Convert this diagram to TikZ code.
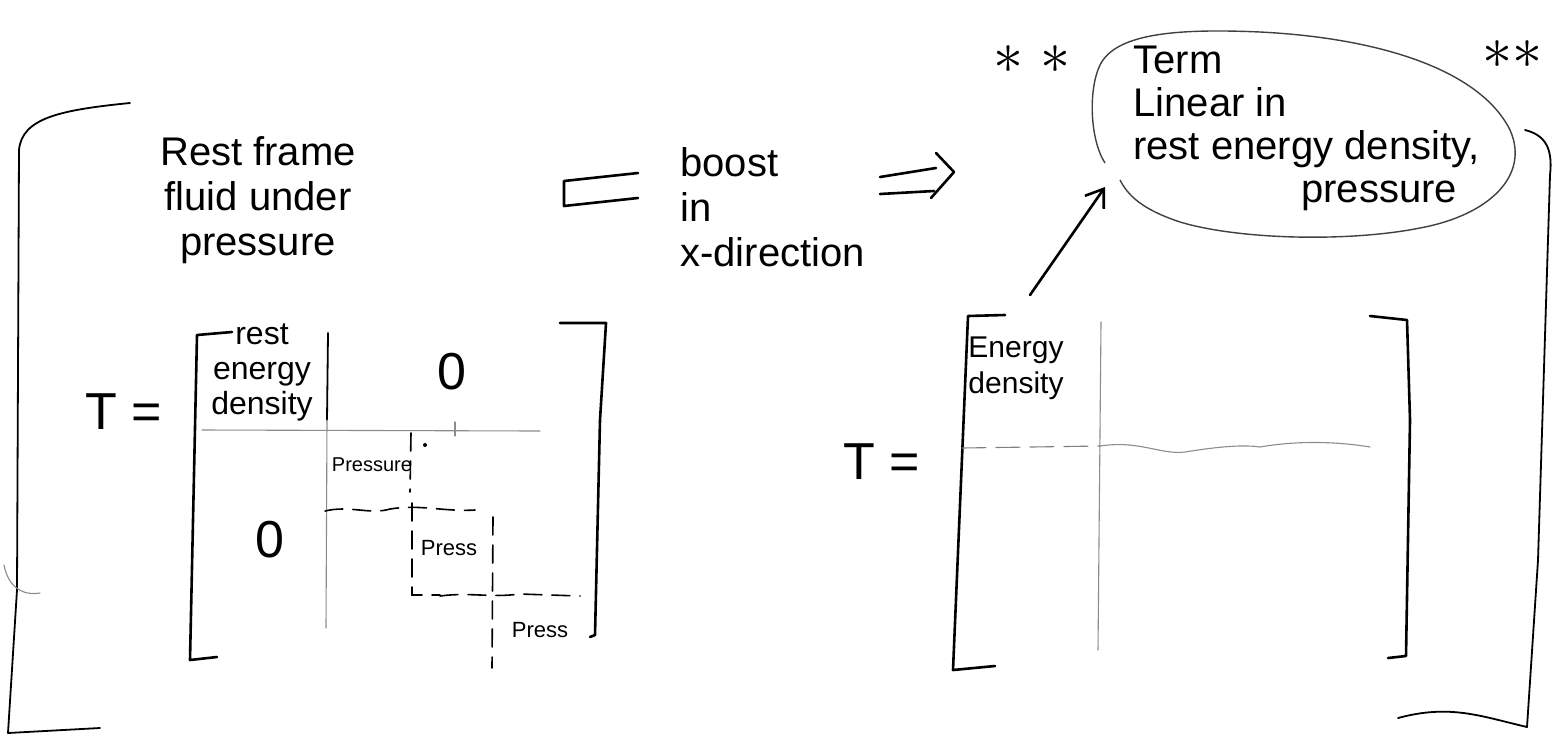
\documentclass[tikz,border=0pt]{standalone}
\usepackage{fontspec}
\setmainfont{Liberation Sans}
\usetikzlibrary{arrows.meta}
\begin{document}
\begin{tikzpicture}[x=0.5pt,y=-0.5pt,
  ink/.style={line width=1.3pt, line cap=round, line join=round},
  thin/.style={line width=0.9pt, line cap=round, line join=round},
  faint/.style={line width=0.55pt, draw=black!45, line cap=round},
  dashink/.style={line width=0.8pt, line cap=round, dash pattern=on 9pt off 5pt},
  dashfaint/.style={line width=0.55pt, draw=black!50, line cap=round, dash pattern=on 12pt off 5pt},
  hand/.style={font=\fontsize{20}{22.5}\selectfont, align=center, inner sep=0pt},
  cell/.style={font=\fontsize{16}{17.5}\selectfont, align=center, inner sep=0pt},
  tiny/.style={font=\fontsize{10}{11}\selectfont, inner sep=0pt},
  big/.style={font=\fontsize{26}{26}\selectfont, inner sep=0pt},
  star/.style={scale=3, inner sep=0pt}]
\useasboundingbox (0,0) rectangle (1567,740);
\fill[white] (0,0) rectangle (1567,740);

% ---- outer brackets around the whole comparison ----
\draw[thin] (130,103) .. controls (60,110) and (22,118) .. (19,150) -- (17,590) -- (8,733) -- (100,728);
\draw[faint] (4,565) .. controls (8,585) and (20,596) .. (40,593);
\draw[thin] (1525,130) .. controls (1545,135) and (1553,148) .. (1550,175)
  -- (1538,560) -- (1527,727) .. controls (1480,716) and (1450,704) .. (1398,718);

% ---- left: rest frame ----
\node[hand] (rf) at (258,200) {Rest frame\\fluid under\\pressure};
\node[big] (T1) at (124,412) {T =};

% matrix brackets
\draw[ink] (232,332) -- (197,335) -- (190,660) -- (217,657);
\draw[ink] (560,323) -- (606,323) -- (600,420) -- (595,635) -- (590,637);

% block structure
\draw[thin] (328,333) -- (327,420);
\draw[faint] (327,420) -- (326,628);
\draw[faint] (202,430) -- (540,431);
\draw[faint] (455,422) -- (455,436);

\node[cell] (red) at (262,372) {rest\\energy\\density};
\node[big] (z1) at (452,372) {0};
\node[big] (z2) at (270,540) {0};
\node[tiny] (p1) at (372,465) {Pressure};
\node[tiny,font=\fontsize{11}{12}\selectfont] (p2) at (449,548) {Press};
\node[tiny,font=\fontsize{11}{12}\selectfont] (p3) at (540,630) {Press};

% pressure blocks
\draw[dashink] (411,433) -- (410,492);
\fill (425,445) circle (1pt);
\draw[dashink] (325,511) .. controls (350,505) and (370,515) .. (390,509) .. controls (420,504) and (445,512) .. (475,510);
\draw[dashink] (412,503) -- (412,595) -- (440,595);
\draw[dashink] (440,596) .. controls (470,592) and (490,598) .. (520,594) -- (580,596);
\draw[dashink] (493,517) -- (492,668);

% ---- middle: boost ----
\node[hand, align=left, anchor=west] (boost) at (680,207) {boost\\in\\x-direction};
\draw[ink] (638,173) -- (564,181) -- (564,206) -- (638,198);
\draw[ink] (880,177) -- (936,168);
\draw[ink] (880,194) -- (934,191);
\draw[ink] (936,153) -- (954,172) -- (931,198);

% ---- right: boosted frame ----
\node[big] (T2) at (882,462) {T =};
\draw[ink] (1005,315) -- (968,316) -- (953,670) -- (995,666);
\draw[ink] (1370,316) -- (1407,320) -- (1410,420) -- (1406,656) -- (1388,658);
\draw[faint] (1101,322) -- (1098,650);
\draw[dashfaint] (962,448) -- (1100,446);
\draw[faint] (1100,446) .. controls (1140,440) and (1160,455) .. (1185,452) .. controls (1210,448) and (1240,444) .. (1260,447) .. controls (1300,440) and (1340,442) .. (1370,447);
\node[cell, font=\fontsize{15}{18}\selectfont, align=left] (ed) at (1016,368) {Energy\\density};

% ---- thought bubble ----
\node[hand, align=left, anchor=north west, font=\fontsize{20}{21.5}\selectfont] (term) at (1133,46)
  {Term\\Linear in\\rest energy density,\\\hspace*{4.2em}pressure};
\draw[line width=0.7pt, draw=black!75] (1105,163) .. controls (1090,140) and (1088,90) .. (1100,65)
  .. controls (1115,35) and (1170,28) .. (1260,32)
  .. controls (1380,38) and (1480,70) .. (1510,130)
  .. controls (1530,175) and (1490,215) .. (1420,228)
  .. controls (1350,242) and (1240,240) .. (1180,222)
  .. controls (1150,212) and (1130,200) .. (1120,180);
\node[star] (s1) at (1032,60) {$\ast\;\ast$};
\node[star] (s2) at (1512,55) {$\ast\ast$};

\coordinate (arrstart) at (1030,295);
\coordinate (bubtip) at (1105,187);
\draw[ink, -{Straight Barb[angle=70:10pt]}] (arrstart) -- (bubtip);
\end{tikzpicture}
\end{document}
